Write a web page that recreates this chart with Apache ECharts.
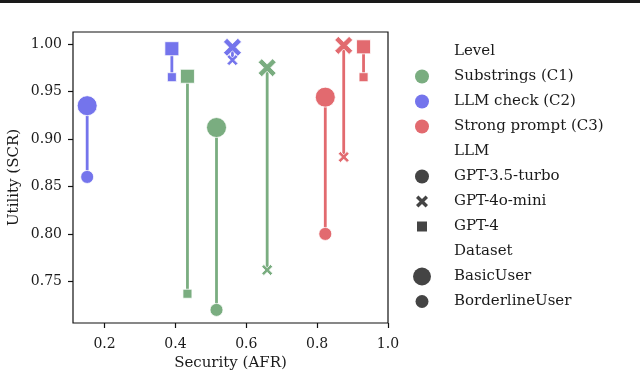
<!DOCTYPE html>
<html>
<head>
<meta charset="utf-8">
<script src="https://cdn.jsdelivr.net/npm/echarts@6/dist/echarts.min.js"></script>
<style>html,body{margin:0;padding:0;background:#fff}#c{width:640px;height:378px}</style>
</head>
<body>
<div id="c"></div>
<script>
// ---- data ----
const levels = ['Substrings (C1)', 'LLM check (C2)', 'Strong prompt (C3)'];
const llms = ['GPT-3.5-turbo', 'GPT-4o-mini', 'GPT-4'];
const datasets = ['BasicUser', 'BorderlineUser'];
// AFR (x) per LLM, order: GPT-3.5-turbo, GPT-4o-mini, GPT-4
const afrC1 = [0.516, 0.659, 0.434];
const afrC2 = [0.151, 0.561, 0.390];
const afrC3 = [0.823, 0.875, 0.931];
// SCR (y) BasicUser
const scrBasicC1 = [0.912, 0.975, 0.966];
const scrBasicC2 = [0.935, 0.9965, 0.995];
const scrBasicC3 = [0.944, 0.9985, 0.997];
// SCR (y) BorderlineUser
const scrBorderC1 = [0.720, 0.762, 0.737];
const scrBorderC2 = [0.860, 0.983, 0.965];
const scrBorderC3 = [0.800, 0.881, 0.965];
const xTicks = [0.2, 0.4, 0.6, 0.8, 1.0];
const yTicks = [0.75, 0.80, 0.85, 0.90, 0.95, 1.00];

// ---- styles ----
const FONT = 'DejaVu Serif';
const levelColors = ['#7aad80', '#7474ec', '#e26a6f'];
const xPath = 'path://M0,2 L2,0 L5,3 L8,0 L10,2 L7,5 L10,8 L8,10 L5,7 L2,10 L0,8 L3,5 Z';
const llmSymbols = ['circle', xPath, 'rect'];
const bigSize = [20, 18, 14];
const smallSize = [13, 11, 9];

const afr = [afrC1, afrC2, afrC3];
const scrBasic = [scrBasicC1, scrBasicC2, scrBasicC3];
const scrBorder = [scrBorderC1, scrBorderC2, scrBorderC3];

const series = [];
levels.forEach((lv, i) => {
  llms.forEach((m, j) => {
    series.push({
      type: 'line',
      name: lv + ' ' + m,
      data: [[afr[i][j], scrBasic[i][j]], [afr[i][j], scrBorder[i][j]]],
      symbol: llmSymbols[j],
      symbolSize: (v, p) => p.dataIndex === 0 ? bigSize[j] : smallSize[j],
      showAllSymbol: true,
      lineStyle: { color: levelColors[i], width: 2.8 },
      itemStyle: { color: levelColors[i], borderColor: '#fff', borderWidth: 0.8, opacity: 1 },
      emphasis: { disabled: true },
      animation: false,
      z: 2
    });
  });
});

// ---- legend (graphic) ----
const legendRows = [
  { text: 'Level' },
  { text: levels[0], sym: 'circle', color: levelColors[0], size: 14 },
  { text: levels[1], sym: 'circle', color: levelColors[1], size: 14 },
  { text: levels[2], sym: 'circle', color: levelColors[2], size: 14 },
  { text: 'LLM' },
  { text: llms[0], sym: 'circle', color: '#444', size: 14 },
  { text: llms[1], sym: 'x', color: '#444', size: 12 },
  { text: llms[2], sym: 'rect', color: '#444', size: 10 },
  { text: 'Dataset' },
  { text: datasets[0], sym: 'circle', color: '#444', size: 18 },
  { text: datasets[1], sym: 'circle', color: '#444', size: 13 }
];
const legendTop = 51.5, legendStep = 25, legendMarkX = 422, legendTextX = 454;
const graphic = [{ type: 'rect', left: 0, top: 0, shape: { width: 640, height: 3 }, style: { fill: '#1a1a1a' } }];
legendRows.forEach((r, k) => {
  const cy = legendTop + k * legendStep;
  graphic.push({ type: 'text', x: legendTextX, y: cy, style: { text: r.text, font: '15px "' + FONT + '"', fill: '#1a1a1a', verticalAlign: 'middle', textAlign: 'left' } });
  if (r.sym === 'circle') {
    graphic.push({ type: 'circle', shape: { cx: legendMarkX, cy: cy, r: r.size / 2 }, style: { fill: r.color } });
  } else if (r.sym === 'rect') {
    graphic.push({ type: 'rect', shape: { x: legendMarkX - r.size / 2, y: cy - r.size / 2, width: r.size, height: r.size }, style: { fill: r.color } });
  } else if (r.sym === 'x') {
    const s = r.size / 10, x0 = legendMarkX - r.size / 2, y0 = cy - r.size / 2;
    const pts = [[0,2],[2,0],[5,3],[8,0],[10,2],[7,5],[10,8],[8,10],[5,7],[2,10],[0,8],[3,5]].map(p => [x0 + p[0] * s, y0 + p[1] * s]);
    graphic.push({ type: 'polygon', shape: { points: pts }, style: { fill: r.color } });
  }
});

const chart = echarts.init(document.getElementById('c'), null, { renderer: 'canvas' });
chart.setOption({
  animation: false,
  backgroundColor: '#fff',
  grid: { left: 73, right: 252, top: 32, bottom: 55, show: true, borderColor: '#111', borderWidth: 1.2, backgroundColor: 'transparent' },
  xAxis: {
    type: 'value', min: 0.111, max: 1.0,
    name: 'Security (AFR)', nameLocation: 'middle', nameGap: 33,
    nameTextStyle: { fontFamily: FONT, fontSize: 15, color: '#1a1a1a' },
    axisLine: { show: false },
    splitLine: { show: false },
    axisTick: { show: true, length: 5, lineStyle: { color: '#111', width: 1.2 }, customValues: xTicks },
    axisLabel: { fontFamily: FONT, fontSize: 14, color: '#1a1a1a', margin: 14, customValues: xTicks, formatter: v => v.toFixed(1) }
  },
  yAxis: {
    type: 'value', min: 0.7062, max: 1.0126,
    name: 'Utility (SCR)', nameLocation: 'middle', nameGap: 51,
    nameTextStyle: { fontFamily: FONT, fontSize: 15, color: '#1a1a1a' },
    axisLine: { show: false },
    splitLine: { show: false },
    axisTick: { show: true, length: 5, lineStyle: { color: '#111', width: 1.2 }, customValues: yTicks },
    axisLabel: { fontFamily: FONT, fontSize: 14, color: '#1a1a1a', margin: 11, customValues: yTicks, formatter: v => v.toFixed(2) }
  },
  series: series,
  graphic: graphic
});
</script>
</body>
</html>
